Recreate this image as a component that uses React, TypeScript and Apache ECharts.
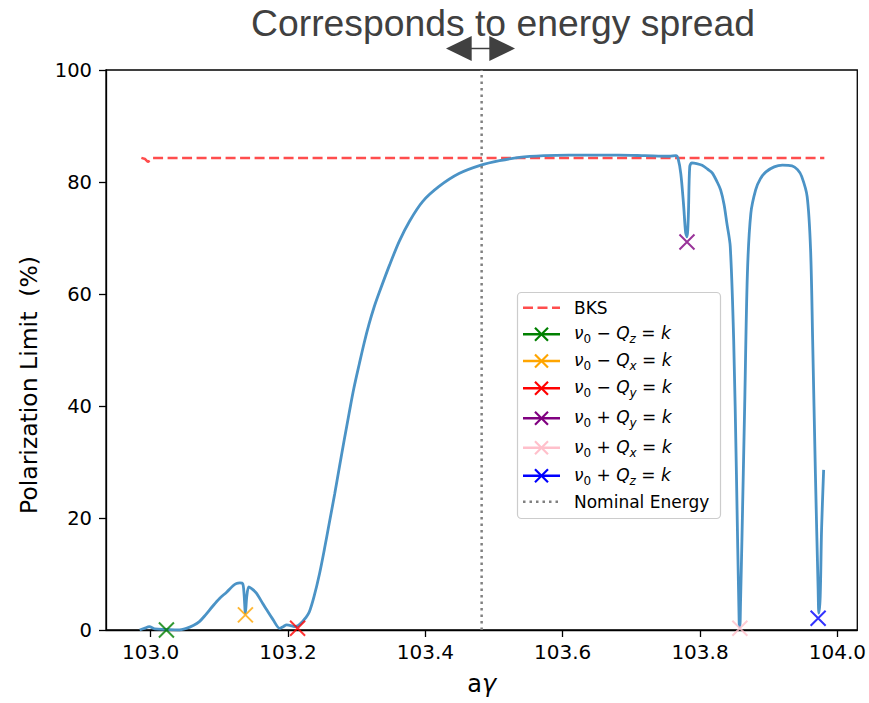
import React, { useEffect, useRef } from "react";
import * as echarts from "echarts";

// ---- data ----
const energy = [
  102.984, 102.991, 102.998, 103.006, 103.023, 103.04, 103.052, 103.062, 103.071, 103.08,
  103.09, 103.1, 103.111, 103.12, 103.125, 103.13, 103.134, 103.136, 103.138, 103.14,
  103.143, 103.148, 103.154, 103.161, 103.169, 103.178, 103.188, 103.193, 103.198, 103.204,
  103.209, 103.215, 103.221, 103.226, 103.231, 103.238, 103.246, 103.253, 103.26, 103.268,
  103.275, 103.282, 103.289, 103.296, 103.304, 103.311, 103.318, 103.325, 103.333, 103.348,
  103.362, 103.377, 103.396, 103.42, 103.449, 103.481, 103.508, 103.537, 103.573, 103.609,
  103.645, 103.682, 103.72, 103.755, 103.765, 103.768, 103.772, 103.776, 103.779, 103.781,
  103.783, 103.785, 103.788, 103.795, 103.803, 103.811, 103.818, 103.825, 103.83, 103.835,
  103.839, 103.844, 103.849, 103.853, 103.857, 103.858, 103.859, 103.861, 103.865, 103.869,
  103.874, 103.881, 103.888, 103.896, 103.908, 103.92, 103.934, 103.942, 103.948, 103.956,
  103.961, 103.964, 103.968, 103.972, 103.973, 103.975, 103.977, 103.98,
];
const polarization = [
  0.0, 0.3, 0.6, 0.2, 0.1, 0.0, 0.3, 0.8, 1.5, 2.7,
  4.2, 5.6, 6.8, 7.9, 8.3, 8.4, 8.3, 6.5, 3.0, 6.0,
  7.7, 7.3, 6.6, 5.2, 3.6, 1.9, 0.3, 0.6, 0.9, 0.8,
  0.6, 0.8, 1.5, 2.2, 3.2, 6.0, 10.1, 14.4, 19.0, 24.3,
  29.2, 34.0, 38.7, 43.2, 47.6, 51.3, 54.6, 57.5, 60.3, 65.2,
  69.4, 73.0, 76.5, 79.2, 81.5, 83.0, 83.8, 84.4, 84.7, 84.8,
  84.8, 84.8, 84.7, 84.6, 84.7, 84.2, 81.5, 76.0, 71.0, 70.2,
  74.0, 82.7, 83.4, 83.3, 83.0, 82.3, 81.6, 80.0, 78.6, 76.0,
  72.7, 68.5, 51.8, 28.0, 1.2, 0.6, 5.0, 16.0, 39.9, 63.7,
  74.4, 78.6, 80.6, 81.8, 82.7, 83.0, 82.9, 82.2, 81.0, 77.4,
  67.9, 51.8, 28.0, 7.1, 3.0, 6.0, 18.0, 28.6,
];

const bksEnergy = [102.9865, 102.992, 102.996, 103.0, 103.003, 103.01, 103.981];
const bksLimit = [84.3, 84.1, 83.6, 83.9, 84.3, 84.3, 84.3];

const nominalEnergy = 103.482;

const resonanceLabels = [
  ["−", "z"],
  ["−", "x"],
  ["−", "y"],
  ["+", "y"],
  ["+", "x"],
  ["+", "z"],
];
const resonanceEnergy = [103.023, 103.138, 103.214, 103.781, 103.858, 103.972];
const resonanceLimit = [0.0, 2.7, 0.3, 69.3, 0.3, 2.1];
const resonanceColors = ["#008000", "#ffa500", "#ff0000", "#800080", "#ffc0cb", "#0000ff"];

const xTickValues = [103.0, 103.2, 103.4, 103.6, 103.8, 104.0];

const titleText = "Corresponds to energy spread";
const yAxisTitle = "Polarization Limit  (%)";

// ---- styles / layout ----
const W = 869;
const H = 703;
const FONT = "DejaVu Sans";
const CURVE = "#4b93c6";
const BKS = "#ff4d4d";
const GRAY = "#808080";
const DARK = "#404040";
const X_PATH = "path://M0,0L10,10M10,0L0,10";

const legendRowsY = [307.7, 334.3, 361, 388.3, 418.3, 447.7, 475.7, 501.7];

function mathLabel(op: string, sub: string) {
  return `{i|ν}{s|0}{o| ${op} }{i|Q}{si|${sub}}{o| = }{i|k}`;
}

const mathRich = {
  i: { fontFamily: FONT, fontStyle: "italic", fontSize: 17, lineHeight: 24, fill: "#000" },
  o: { fontFamily: FONT, fontSize: 17, lineHeight: 24, fill: "#000" },
  s: { fontFamily: FONT, fontSize: 12, lineHeight: 12, verticalAlign: "bottom", fill: "#000" },
  si: { fontFamily: FONT, fontStyle: "italic", fontSize: 12, lineHeight: 12, verticalAlign: "bottom", fill: "#000" },
};

function buildLegend() {
  const els: any[] = [];
  els.push({
    type: "rect",
    shape: { x: 517.5, y: 292.5, width: 203, height: 226, r: 4 },
    style: { fill: "rgba(255,255,255,0.85)", stroke: "#cccccc", lineWidth: 1.2 },
    z: 100,
  });
  const x0 = 523;
  const x1 = 560;
  const xm = (x0 + x1) / 2;
  const tx = 574;
  els.push({
    type: "line",
    shape: { x1: x0, y1: legendRowsY[0], x2: x1, y2: legendRowsY[0] },
    style: { stroke: BKS, lineWidth: 2.5, lineDash: [10, 4.5] },
    z: 101,
  });
  els.push({
    type: "text",
    x: tx,
    y: legendRowsY[0],
    style: { text: "BKS", fontFamily: FONT, fontSize: 17, fill: "#000", align: "left", verticalAlign: "middle" },
    z: 101,
  });
  resonanceLabels.forEach((lab, k) => {
    const y = legendRowsY[k + 1];
    const c = resonanceColors[k];
    els.push({
      type: "line",
      shape: { x1: x0, y1: y, x2: x1, y2: y },
      style: { stroke: c, lineWidth: 2.5 },
      z: 101,
    });
    const h = 6.5;
    els.push({
      type: "line",
      shape: { x1: xm - h, y1: y - h, x2: xm + h, y2: y + h },
      style: { stroke: c, lineWidth: 2.2 },
      z: 101,
    });
    els.push({
      type: "line",
      shape: { x1: xm - h, y1: y + h, x2: xm + h, y2: y - h },
      style: { stroke: c, lineWidth: 2.2 },
      z: 101,
    });
    els.push({
      type: "text",
      x: tx,
      y: y - 1,
      style: {
        text: mathLabel(lab[0], lab[1]),
        rich: mathRich,
        align: "left",
        verticalAlign: "middle",
      },
      z: 101,
    });
  });
  const yn = legendRowsY[7];
  els.push({
    type: "line",
    shape: { x1: x0, y1: yn, x2: x1, y2: yn },
    style: { stroke: GRAY, lineWidth: 2.5, lineDash: [2.5, 4] },
    z: 101,
  });
  els.push({
    type: "text",
    x: tx,
    y: yn,
    style: { text: "Nominal Energy", fontFamily: FONT, fontSize: 17, fill: "#000", align: "left", verticalAlign: "middle" },
    z: 101,
  });
  return els;
}

export default function App() {
  const ref = useRef<HTMLDivElement>(null);

  useEffect(() => {
    if (!ref.current) return;
    const chart = echarts.init(ref.current, undefined, { renderer: "svg", width: W, height: H });

    const curveData = energy.map((e, i) => [e, polarization[i]]);
    const bksData = bksEnergy.map((e, i) => [e, bksLimit[i]]);

    const markerSeries = resonanceEnergy.map((e, k) => ({
      type: "scatter",
      name: mathLabel(resonanceLabels[k][0], resonanceLabels[k][1]),
      data: [[e, resonanceLimit[k]]],
      symbol: X_PATH,
      symbolSize: 15,
      itemStyle: { color: "transparent", borderColor: resonanceColors[k], borderWidth: 2 },
      silent: true,
      z: 5,
      clip: false,
    }));

    const option: any = {
      animation: false,
      backgroundColor: "#ffffff",
      textStyle: { fontFamily: FONT },
      grid: {
        left: 106,
        right: W - 858,
        top: 70,
        bottom: H - 630,
        show: true,
        borderColor: "#000",
        borderWidth: 1.3,
        backgroundColor: "transparent",
      },
      xAxis: {
        type: "value",
        min: 102.935,
        max: 104.029,
        name: "{n|a}{g|γ}",
        nameLocation: "middle",
        nameGap: 42,
        nameTextStyle: {
          rich: {
            n: { fontFamily: FONT, fontSize: 24, color: "#000" },
            g: { fontFamily: FONT, fontSize: 24, fontStyle: "italic", color: "#000" },
          },
        },
        splitLine: { show: false },
        axisLine: { show: true, onZero: false, lineStyle: { color: "#000", width: 1.3 } },
        axisTick: {
          show: true,
          length: 7,
          lineStyle: { color: "#000", width: 1.3 },
          customValues: xTickValues,
        },
        axisLabel: {
          show: true,
          margin: 12,
          fontFamily: FONT,
          fontSize: 20,
          color: "#000",
          customValues: xTickValues,
          formatter: (v: number) => v.toFixed(1),
        },
      },
      yAxis: {
        type: "value",
        min: 0,
        max: 100,
        interval: 20,
        splitLine: { show: false },
        axisLine: { show: true, onZero: false, lineStyle: { color: "#000", width: 1.3 } },
        axisTick: { show: true, length: 7, lineStyle: { color: "#000", width: 1.3 } },
        axisLabel: { margin: 14, fontFamily: FONT, fontSize: 19.5, color: "#000" },
      },
      series: [
        {
          type: "line",
          name: "BKS",
          data: bksData,
          showSymbol: false,
          symbol: "none",
          lineStyle: { color: BKS, width: 2.5, type: [10, 4.5] },
          silent: true,
          z: 2,
        },
        {
          type: "line",
          name: "Polarization",
          data: curveData,
          showSymbol: false,
          symbol: "none",
          smooth: 0.3,
          lineStyle: { color: CURVE, width: 2.8 },
          silent: true,
          z: 3,
        },
        ...markerSeries,
        {
          type: "line",
          name: "Nominal Energy",
          data: [
            [nominalEnergy, 0],
            [nominalEnergy, 100],
          ],
          showSymbol: false,
          symbol: "none",
          lineStyle: { color: GRAY, width: 2.5, type: [2.5, 4] },
          silent: true,
          z: 4,
        },
      ],
      graphic: [
        {
          type: "text",
          x: 503,
          y: 23,
          style: {
            text: titleText,
            fontFamily: "Liberation Sans",
            fontSize: 37.3,
            fill: DARK,
            align: "center",
            verticalAlign: "middle",
          },
        },
        {
          type: "polygon",
          shape: { points: [[446, 48.5], [471.7, 36], [471.7, 61]] },
          style: { fill: DARK },
        },
        {
          type: "polygon",
          shape: { points: [[515, 48.5], [489.3, 36], [489.3, 61]] },
          style: { fill: DARK },
        },
        {
          type: "line",
          shape: { x1: 471, y1: 48.5, x2: 490, y2: 48.5 },
          style: { stroke: DARK, lineWidth: 1.5 },
        },
        {
          type: "text",
          x: 29,
          y: 385,
          rotation: Math.PI / 2,
          style: {
            text: yAxisTitle,
            fontFamily: FONT,
            fontSize: 23.5,
            fill: "#000",
            align: "center",
            verticalAlign: "middle",
          },
        },
        ...buildLegend(),
      ],
    };

    chart.setOption(option);
    return () => chart.dispose();
  }, []);

  return (
    <div style={{ position: "fixed", left: 0, top: 0, width: W, height: H, background: "#fff" }}>
      <div ref={ref} style={{ width: W, height: H }} />
    </div>
  );
}
